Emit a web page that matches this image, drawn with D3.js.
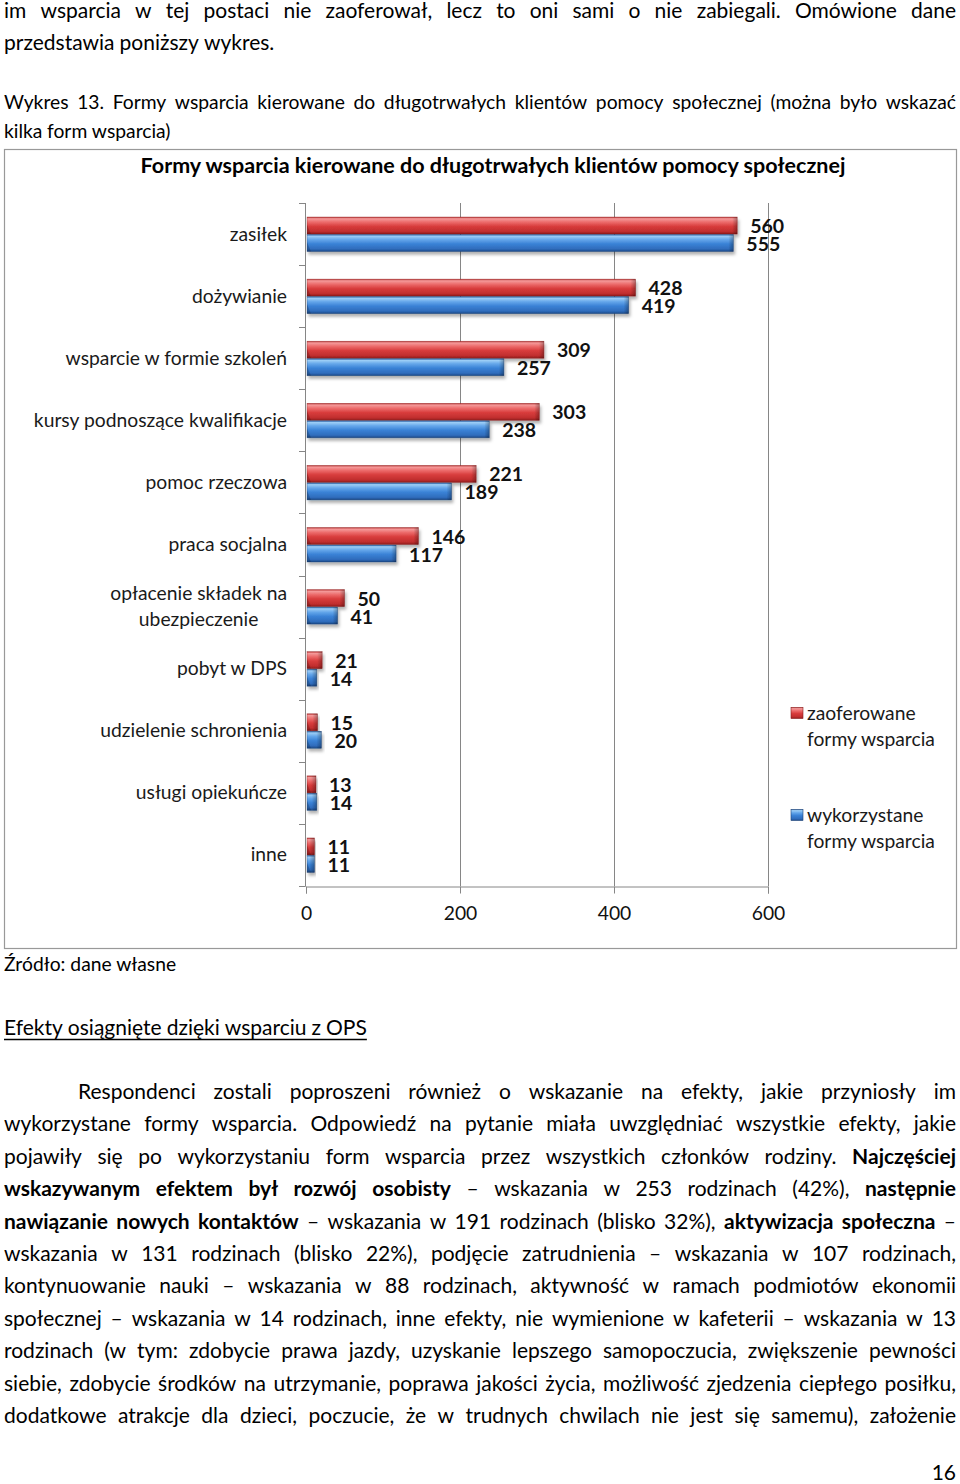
<!DOCTYPE html>
<html><head><meta charset="utf-8">
<script src="https://cdn.jsdelivr.net/npm/d3@7"></script>
<style>body{margin:0;background:#fff} svg{display:block}</style>
</head><body>
<script>
// ---------- data ----------
const categories = ["zasiłek","dożywianie","wsparcie w formie szkoleń","kursy podnoszące kwalifikacje","pomoc rzeczowa","praca socjalna","opłacenie składek na\nubezpieczenie","pobyt w DPS","udzielenie schronienia","usługi opiekuńcze","inne"];
const offered = [560,428,309,303,221,146,50,21,15,13,11];
const used    = [555,419,257,238,189,117,41,14,20,14,11];
const xTicks  = [0,200,400,600];
const seriesNames = ["zaoferowane\nformy wsparcia","wykorzystane\nformy wsparcia"];
const chartTitle = "Formy wsparcia kierowane do długotrwałych klientów pomocy społecznej";

// ---------- page text ----------
const topLines = [
  {segs:[["im wsparcia w tej postaci nie zaoferował, lecz to oni sami o nie zabiegali. Omówione dane",0]], j:true},
  {segs:[["przedstawia poniższy wykres.",0]], j:false}
];
const captionLines = [
  {segs:[["Wykres 13. Formy wsparcia kierowane do długotrwałych klientów pomocy społecznej (można było wskazać",0]], j:true},
  {segs:[["kilka form wsparcia)",0]], j:false}
];
const bodyLines = [
  [["Respondenci zostali poproszeni również o wskazanie na efekty, jakie przyniosły im",0]],
  [["wykorzystane formy wsparcia. Odpowiedź na pytanie miała uwzględniać wszystkie efekty, jakie",0]],
  [["pojawiły się po wykorzystaniu form wsparcia przez wszystkich członków rodziny.",0],["Najczęściej",1]],
  [["wskazywanym efektem był rozwój osobisty",1],["– wskazania w 253 rodzinach (42%),",0],["następnie",1]],
  [["nawiązanie nowych kontaktów",1],["– wskazania w 191 rodzinach (blisko 32%),",0],["aktywizacja społeczna",1],["–",0]],
  [["wskazania w 131 rodzinach (blisko 22%), podjęcie zatrudnienia – wskazania w 107 rodzinach,",0]],
  [["kontynuowanie nauki – wskazania w 88 rodzinach, aktywność w ramach podmiotów ekonomii",0]],
  [["społecznej – wskazania w 14 rodzinach, inne efekty, nie wymienione w kafeterii – wskazania w 13",0]],
  [["rodzinach (w tym: zdobycie prawa jazdy, uzyskanie lepszego samopoczucia, zwiększenie pewności",0]],
  [["siebie, zdobycie środków na utrzymanie, poprawa jakości życia, możliwość zjedzenia ciepłego posiłku,",0]],
  [["dodatkowe atrakcje dla dzieci, poczucie, że w trudnych chwilach nie jest się samemu), założenie",0]]
];

const FONT = "Lato, 'Noto Sans', sans-serif";
const W = 960, H = 1484;
const svg = d3.select("body").append("svg").attr("width", W).attr("height", H)
  .style("font-family", FONT).attr("fill", "#000");

function textLine(g, segs, x0, x1, y, size, justify) {
  const words = [];
  segs.forEach(s => s[0].split(" ").filter(w => w.length).forEach(w => words.push({t:w, b:s[1]})));
  const nodes = words.map(w => g.append("text").attr("y", y).attr("font-size", size)
     .attr("font-weight", w.b ? 700 : 400).text(w.t));
  const widths = nodes.map(n => n.node().getComputedTextLength());
  const sum = d3.sum(widths), gaps = words.length - 1, avail = x1 - x0;
  let space = size * 0.24, scale = 1;
  if (justify && gaps > 0) {
    space = (avail - sum) / gaps;
    const minS = size * 0.18;
    if (space < minS) { scale = (avail - minS * gaps) / sum; space = minS; }
  }
  let x = x0;
  nodes.forEach((n, i) => {
    const w = widths[i] * scale;
    n.attr("x", x);
    if (scale < 1) n.attr("textLength", w).attr("lengthAdjust", "spacingAndGlyphs");
    x += w + space;
  });
  return x - space;
}

const page = svg.append("g");
const BODY = 21, SMALL = 19.3;
topLines.forEach((l, i) => textLine(page, l.segs, 4, 956, 18 + i * 32, BODY, l.j));
captionLines.forEach((l, i) => textLine(page, l.segs, 4, 956, 109 + i * 28.5, SMALL, l.j));

// source + heading
page.append("text").attr("x", 4).attr("y", 971).attr("font-size", SMALL).text("Źródło: dane własne");
const hEnd = textLine(page, [["Efekty osiągnięte dzięki wsparciu z OPS",0]], 4, 956, 1035, BODY, false);
page.append("line").attr("x1", 4).attr("x2", hEnd).attr("y1", 1039.5).attr("y2", 1039.5)
  .attr("stroke", "#000").attr("stroke-width", 1.3);
bodyLines.forEach((segs, i) => textLine(page, segs, i === 0 ? 78 : 4, 956, 1099 + i * 32.4, BODY, true));
page.append("text").attr("x", 956).attr("y", 1480).attr("text-anchor", "end").attr("font-size", BODY).text("16");

// ---------- chart ----------
const defs = svg.append("defs");
function grad(id, stops) {
  const g = defs.append("linearGradient").attr("id", id).attr("x1", 0).attr("y1", 0).attr("x2", 0).attr("y2", 1);
  stops.forEach(s => g.append("stop").attr("offset", s[0]).attr("stop-color", s[1]));
}
grad("gRed",  [[0,"#b83030"],[0.1,"#f49a9a"],[0.3,"#ec6a6a"],[0.55,"#d83c3c"],[0.85,"#c02e2e"],[1,"#8e1c1c"]]);
grad("gBlue", [[0,"#2a62a8"],[0.1,"#9ccdf6"],[0.3,"#64a6ea"],[0.55,"#3a82d6"],[0.85,"#2f6cbc"],[1,"#1c4886"]]);
const cap = defs.append("linearGradient").attr("id", "gCap").attr("x1", 0).attr("x2", 1).attr("y1", 0).attr("y2", 0);
cap.append("stop").attr("offset", 0).attr("stop-color", "#000").attr("stop-opacity", 0);
cap.append("stop").attr("offset", 1).attr("stop-color", "#000").attr("stop-opacity", 0.28);
const f = defs.append("filter").attr("id", "shadow").attr("x", "-10%").attr("y", "-50%").attr("width", "130%").attr("height", "250%");
f.append("feDropShadow").attr("dx", 1.5).attr("dy", 3).attr("stdDeviation", 1.8)
  .attr("flood-color", "#000").attr("flood-opacity", 0.3);

const chart = svg.append("g");
chart.append("rect").attr("x", 4.5).attr("y", 149.5).attr("width", 952).attr("height", 799)
  .attr("fill", "#fff").attr("stroke", "#999").attr("stroke-width", 1.2);
chart.append("text").attr("x", 493).attr("y", 173).attr("text-anchor", "middle")
  .attr("font-size", 21.5).attr("font-weight", 700).text(chartTitle);

const x = d3.scaleLinear().domain([0, 600]).range([306, 768]);
const y = d3.scaleBand().domain(categories).range([203, 886]).paddingInner(0).paddingOuter(0);
const bw = y.bandwidth();
const AX = "#868686";

// gridlines
chart.append("g").selectAll("line").data(xTicks.slice(1)).join("line")
  .attr("x1", d => Math.round(x(d)) + 0.5).attr("x2", d => Math.round(x(d)) + 0.5)
  .attr("y1", 203).attr("y2", 886).attr("stroke", AX).attr("stroke-width", 1);

// bottom axis
const xAxis = d3.axisBottom(x).tickValues(xTicks).tickSize(7).tickPadding(13);
const gx = chart.append("g").attr("transform", "translate(0,886.5)").call(xAxis);
gx.select(".domain").attr("stroke", AX);
gx.selectAll(".tick line").attr("stroke", AX);
gx.selectAll(".tick text").attr("font-size", SMALL).attr("font-family", FONT).attr("fill", "#111");

// left axis (ticks at band boundaries)
const bounds = categories.map(c => y(c)).concat([886]);
chart.append("line").attr("x1", 305.5).attr("x2", 305.5).attr("y1", 203).attr("y2", 886.5).attr("stroke", AX);
chart.append("g").selectAll("line").data(bounds).join("line")
  .attr("x1", 299).attr("x2", 305.5).attr("y1", d => Math.round(d) + 0.5).attr("y2", d => Math.round(d) + 0.5)
  .attr("stroke", AX);

// category labels
const lab = chart.append("g").attr("font-size", SMALL).attr("fill", "#1a1a1a");
categories.forEach(c => {
  const lines = c.split("\n");
  const cy = y(c) + bw / 2;
  if (lines.length === 1) {
    lab.append("text").attr("x", 287).attr("y", cy + 6.5).attr("text-anchor", "end").text(c);
  } else {
    const t = lines.map((l, i) => lab.append("text").attr("y", cy + 6.5 + (i - (lines.length - 1) / 2) * 26).text(l));
    const mw = d3.max(t, n => n.node().getComputedTextLength());
    t.forEach(n => n.attr("x", 287 - mw / 2).attr("text-anchor", "middle"));
  }
});

// bars
const series = [
  {vals: offered, fill: "url(#gRed)",  stroke: "#8a1c1c", dy: -17, ly: -8},
  {vals: used,    fill: "url(#gBlue)", stroke: "#1c4478", dy: 0.5, ly: 10}
];
const BH = 17;
series.forEach(s => {
  const g = chart.append("g");
  categories.forEach((c, i) => {
    const cy = y(c) + bw / 2;
    const x0 = x(0) + 1, x1 = x(s.vals[i]);
    const yy = cy + s.dy;
    const bg = g.append("g").attr("filter", "url(#shadow)");
    bg.append("rect").attr("x", x0).attr("y", yy).attr("width", x1 - x0).attr("height", BH)
      .attr("fill", s.fill).attr("stroke", s.stroke).attr("stroke-width", 0.6).attr("stroke-opacity", 0.6);
    bg.append("rect").attr("x", Math.max(x0, x1 - 5)).attr("y", yy).attr("width", Math.min(5, x1 - x0)).attr("height", BH)
      .attr("fill", "url(#gCap)");
    bg.append("path").attr("d", `M${x0},${yy + BH} L${x0},${yy + BH * 0.45} L${x0 + 4},${yy + BH} Z`)
      .attr("fill", "#000").attr("opacity", 0.18);
  });
});

// value labels
const vl = chart.append("g").attr("font-size", 19.5).attr("font-weight", 700).attr("fill", "#111");
series.forEach(s => {
  categories.forEach((c, i) => {
    const cy = y(c) + bw / 2;
    vl.append("text").attr("x", x(s.vals[i]) + 13).attr("y", cy + s.ly + 7).text(s.vals[i]);
  });
});

// legend
const leg = chart.append("g").attr("font-size", SMALL).attr("fill", "#1a1a1a");
const legFills = ["url(#gRed)", "url(#gBlue)"], legStroke = ["#8a1c1c", "#1c4478"];
seriesNames.forEach((n, i) => {
  const ly = 713 + i * 102;
  leg.append("rect").attr("x", 791).attr("y", ly - 5.5).attr("width", 12).attr("height", 11)
    .attr("fill", legFills[i]).attr("stroke", legStroke[i]).attr("stroke-width", 0.6);
  n.split("\n").forEach((t, k) => leg.append("text").attr("x", 807).attr("y", ly + 6.5 + k * 26).text(t));
});
</script>
</body></html>
